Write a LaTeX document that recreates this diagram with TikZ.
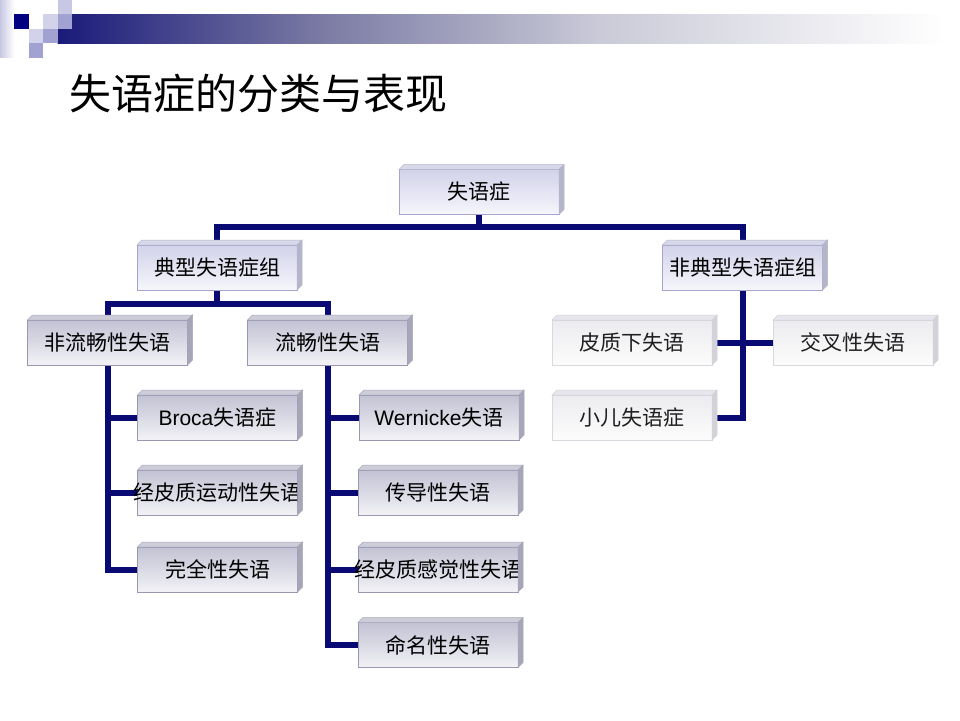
\documentclass[tikz,border=0pt]{standalone}
\usepackage{fontspec}
\setmainfont{Noto Sans CJK SC}
\newfontfamily\lat{Liberation Sans}
\usetikzlibrary{calc}
\pgfdeclarelayer{background}
\pgfsetlayers{background,main}
\definecolor{navy}{HTML}{0A0A74}
\definecolor{hdrnavy}{HTML}{000080}
\definecolor{hdrlight}{HTML}{D2D2EA}
\definecolor{hdrmed}{HTML}{A2A2D2}
\definecolor{hdrtop}{HTML}{C8C8E4}
\definecolor{barA}{HTML}{1A1A7A}
\definecolor{barB}{HTML}{7A7AA4}
\definecolor{barC}{HTML}{CACAD8}
% lavender boxes
\definecolor{topA}{HTML}{D2D2EA}
\definecolor{botA}{HTML}{F6F6FC}
\definecolor{bordA}{HTML}{A4A4CE}
\definecolor{faceTA}{HTML}{D8D8EA}
\definecolor{faceRA}{HTML}{B4B4CA}
% gray boxes
\definecolor{topB}{HTML}{C2C2D4}
\definecolor{botB}{HTML}{F2F2F6}
\definecolor{bordB}{HTML}{9898B0}
\definecolor{faceTB}{HTML}{CDCDDA}
\definecolor{faceRB}{HTML}{A6A6B8}
% white boxes
\definecolor{topC}{HTML}{ECECF0}
\definecolor{botC}{HTML}{FCFCFC}
\definecolor{bordC}{HTML}{D8D8DE}
\definecolor{faceTC}{HTML}{E6E6EC}
\definecolor{faceRC}{HTML}{D2D2D8}
\tikzset{
  box/.style={rectangle, minimum width=160pt, minimum height=45pt, inner sep=0pt,
    outer sep=0pt, font=\fontsize{21}{21}\selectfont, line width=0.8pt, text=black},
  boxA/.style={box, draw=bordA, top color=topA, bottom color=botA},
  boxB/.style={box, draw=bordB, top color=topB, bottom color=botB},
  boxC/.style={box, draw=bordC, top color=topC, bottom color=botC, text=black!88},
  conn/.style={draw=navy, line width=6pt, line join=miter, line cap=butt},
}
\newcommand\bevel[3]{%
  \filldraw[fill=#2, draw=#3, line width=0.5pt] (#1.north west) -- ([shift={(5,-5)}]#1.north west)
    -- ([shift={(5,-5)}]#1.north east) -- (#1.north east) -- cycle;
  \filldraw[fill=#3, draw=#3, line width=0.5pt] (#1.north east) -- ([shift={(5,-5)}]#1.north east)
    -- ([shift={(5,-5)}]#1.south east) -- (#1.south east) -- cycle;
}
\begin{document}
\begin{tikzpicture}[x=1pt,y=-1pt]
\useasboundingbox (0,0) rectangle (960,720);
% header decoration
\fill[left color=hdrtop, right color=white] (0,0) rectangle (14.4,57.6);
\fill[left color=barA, right color=barB] (57.6,14.4) rectangle (320,43.2);
\fill[left color=barB, right color=barC] (319.5,14.4) rectangle (600,43.2);
\fill[left color=barC, right color=white] (599.5,14.4) rectangle (945,43.2);
\fill[hdrtop] (57.6,0) rectangle (72,14.4);
\fill[hdrnavy] (14.4,14.4) rectangle (28.8,28.8);
\fill[hdrlight] (43.2,14.4) rectangle (57.6,28.8);
\fill[hdrmed] (57.6,14.4) rectangle (72,28.8);
\fill[hdrlight] (28.8,28.8) rectangle (43.2,43.2);
\fill[hdrmed] (43.2,28.8) rectangle (57.6,43.2);
\fill[hdrmed] (28.8,43.2) rectangle (43.2,57.6);
% title
\node[anchor=west, inner sep=0pt, font=\fontsize{42}{42}\selectfont] (title) at (69,94) {失语症的分类与表现};
% boxes
\node[boxA] (root) at (479,192) {失语症};
\node[boxA] (typ) at (217,267.5) {典型失语症组};
\node[boxA] (atyp) at (742.5,267.5) {非典型失语症组};
\node[boxB] (nf) at (107.5,342.5) {非流畅性失语};
\node[boxB] (fl) at (327.5,342.5) {流畅性失语};
\node[boxB] (broca) at (217.5,417.5) {{\lat Broca}失语症};
\node[boxB] (tcm) at (217.5,492.5) {\makebox[0pt]{经皮质运动性失语}};
\node[boxB] (glob) at (217.5,569.5) {完全性失语};
\node[boxB] (wern) at (439,417.5) {{\lat Wernicke}失语};
\node[boxB] (cond) at (438,492.5) {传导性失语};
\node[boxB] (tcs) at (438,569.5) {\makebox[0pt]{经皮质感觉性失语}};
\node[boxB] (anom) at (438,645) {命名性失语};
\node[boxC] (sub) at (632,342.5) {皮质下失语};
\node[boxC] (cross) at (853,342.5) {交叉性失语};
\node[boxC] (child) at (632,417.5) {小儿失语症};
\foreach \n in {root,typ,atyp}{\bevel{\n}{faceTA}{faceRA}}
\foreach \n in {nf,fl,broca,tcm,glob,wern,cond,tcs,anom}{\bevel{\n}{faceTB}{faceRB}}
\foreach \n in {sub,cross,child}{\bevel{\n}{faceTC}{faceRC}}
% connectors
\coordinate (b1) at (479,227);
\coordinate (b2) at (217,304);
\begin{pgfonlayer}{background}
\draw[conn] (root.south) -- (b1);
\draw[conn] (typ.north) |- (b1) -| (atyp.north);
\draw[conn] (typ.south) -- (b2);
\draw[conn] (nf.north) |- (b2) -| (fl.north);
\draw[conn] (nf.south) |- (glob.west);
\draw[conn] (broca.west) -- (broca.west -| nf.south);
\draw[conn] (tcm.west) -- (tcm.west -| nf.south);
\draw[conn] (fl.south) |- (anom.west);
\draw[conn] (wern.west) -- (wern.west -| fl.south);
\draw[conn] (cond.west) -- (cond.west -| fl.south);
\draw[conn] (tcs.west) -- (tcs.west -| fl.south);
\draw[conn] (atyp.south) |- (child.east);
\draw[conn] (sub.east) -- (cross.west);
\end{pgfonlayer}
\end{tikzpicture}
\end{document}
